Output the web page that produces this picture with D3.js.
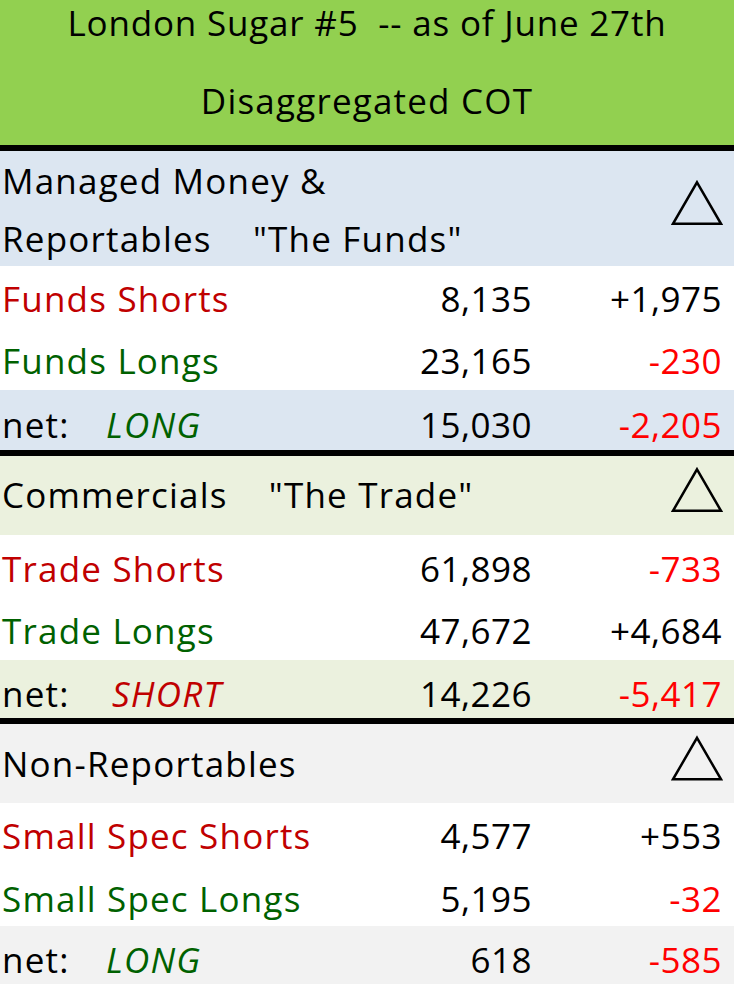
<!DOCTYPE html>
<html><head><meta charset="utf-8">
<script src="https://cdn.jsdelivr.net/npm/d3@7"></script>
<style>body{margin:0;background:#fff} text{white-space:pre}</style></head>
<body><script>
const titleLines=["London Sugar #5  -- as of June 27th","Disaggregated COT"];
const sections=[
 {header:["Managed Money &","Reportables    \"The Funds\""],bg:"#dce6f1",
  labels:["Funds Shorts","Funds Longs"],values:["8,135","23,165"],deltas:["+1,975","-230"],
  netDir:"LONG",netDirColor:"#006100",netValue:"15,030",netDelta:"-2,205"},
 {header:["Commercials    \"The Trade\""],bg:"#ebf1de",
  labels:["Trade Shorts","Trade Longs"],values:["61,898","47,672"],deltas:["-733","+4,684"],
  netDir:"SHORT",netDirColor:"#c00000",netValue:"14,226",netDelta:"-5,417"},
 {header:["Non-Reportables"],bg:"#f2f2f2",
  labels:["Small Spec Shorts","Small Spec Longs"],values:["4,577","5,195"],deltas:["+553","-32"],
  netDir:"LONG",netDirColor:"#006100",netValue:"618",netDelta:"-585"}
];
const W=734,H=984,F="'Open Sans', sans-serif",fs=35;
const svg=d3.select("body").append("svg").attr("width",W).attr("height",H);
const g=svg.append("g");
function txt(x,y,t,o={}){return g.append("text").attr("x",x).attr("y",y).text(t)
 .attr("xml:space","preserve")
 .attr("font-family",F).attr("font-size",o.fs||fs).attr("fill",o.fill||"#000")
 .attr("letter-spacing",o.ls!=null?o.ls:1.2)
 .attr("text-anchor",o.anchor||"start").attr("font-style",o.italic?"italic":"normal")
 .attr("dominant-baseline","central");}
g.append("rect").attr("width",W).attr("height",146).attr("fill","#92d050");
txt(W/2,22,titleLines[0],{anchor:"middle",ls:0.8});txt(W/2,100,titleLines[1],{anchor:"middle"});
const layout=[{top:150,head:[180,238],hb:266,rows:[298,360],net:[390,450]},
 {top:455,head:[494],hb:535,rows:[568,630],net:[660,718]},
 {top:724,head:[763],hb:803,rows:[835,898],net:[926,984]}];
const lineYs=[148,453,721];
lineYs.forEach(y=>g.append("rect").attr("x",0).attr("y",y-3).attr("width",W).attr("height",6).attr("fill","#000"));
const c1=532,c2=722;
const tri=d3.symbol().type(d3.symbolTriangle).size(1000);
sections.forEach((s,i)=>{const L=layout[i];
 g.insert("rect",":first-child").attr("y",L.top).attr("width",W).attr("height",L.hb-L.top).attr("fill",s.bg);
 g.insert("rect",":first-child").attr("y",L.net[0]).attr("width",W).attr("height",L.net[1]-L.net[0]).attr("fill",s.bg);
 s.header.forEach((h,j)=>txt(2,L.head[j],h));
 const ty=(L.top+L.hb)/2+2;
 g.append("path").attr("d",tri).attr("transform",`translate(697,${ty})`).attr("fill","none").attr("stroke","#000").attr("stroke-width",2.5);
 s.labels.forEach((lab,j)=>{const y=L.rows[j];
  txt(2,y,lab,{fill:j==0?"#c00000":"#006100"});
  txt(c1,y,s.values[j],{anchor:"end",ls:0.5});
  txt(c2,y,s.deltas[j],{anchor:"end",ls:0.5,fill:s.deltas[j][0]=="-"?"#ff0000":"#000"});});
 const ny=(L.net[0]+L.net[1])/2+4;
 txt(2,ny,"net:");txt(i==1?112:106,ny,s.netDir,{italic:true,fill:s.netDirColor});
 txt(c1,ny,s.netValue,{anchor:"end",ls:0.5});
 txt(c2,ny,s.netDelta,{anchor:"end",ls:0.5,fill:"#ff0000"});
});
</script></body></html>
